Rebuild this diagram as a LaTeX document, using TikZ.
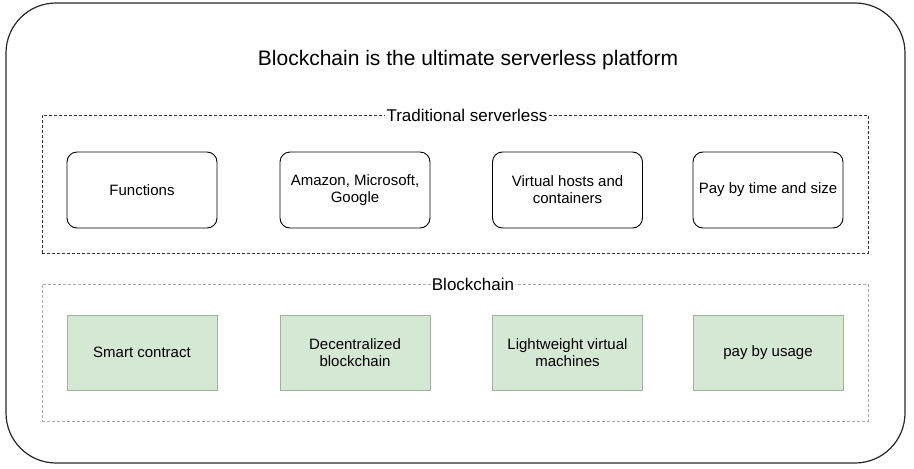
\documentclass[tikz,border=0pt]{standalone}
\usepackage{fontspec}
\setmainfont{Liberation Sans}
\definecolor{leafgreen}{HTML}{D5E8D4}
\definecolor{leafedge}{HTML}{9DB39A}
\definecolor{fogline}{HTML}{AAAAAA}
\begin{document}
\begin{tikzpicture}[x=1pt,y=-1pt,
    ideabox/.style={draw, rounded corners=10pt, line width=0.9pt, minimum width=150pt, minimum height=76pt,
        inner sep=0pt, align=center, font=\fontsize{15}{17}\selectfont},
    chainbox/.style={draw=leafedge, fill=leafgreen, line width=0.9pt, minimum width=150pt, minimum height=75pt,
        inner sep=0pt, align=center, font=\fontsize{15}{17}\selectfont},
    groupbox/.style={dashed, dash pattern=on 3pt off 2pt, line width=0.8pt, minimum width=826pt, minimum height=138pt, inner sep=0pt},
    grouplabel/.style={fill=white, inner sep=2pt, font=\fontsize{17}{20}\selectfont}]
    \useasboundingbox (0,0) rectangle (914,469);

    % draw the outer frame
    \node[draw, line width=1.2pt, draw=black!85, rounded corners=50pt, minimum width=899pt, minimum height=460pt] (frame) at (455.5,233) {};
    \node[font=\fontsize{21}{24}\selectfont] (title) at (468,60) {Blockchain is the ultimate serverless platform};

    % traditional serverless
    \node[groupbox, draw=black!80] (tradition) at (455,184) {};
    \node[grouplabel] (traditionlabel) at (467,115) {Traditional serverless};
    \node[ideabox] (functions) at (142,190) {Functions};
    \node[ideabox] (clouds) at (355,190) {Amazon, Microsoft,\\Google};
    \node[ideabox] (hosts) at (567.5,190) {Virtual hosts and\\containers};
    \node[ideabox] (paytime) at (768,190) {Pay by time and size};

    % blockchain
    \node[groupbox, draw=fogline, minimum height=137pt] (chain) at (455,352.5) {};
    \node[grouplabel, inner sep=1pt] (chainlabel) at (473,284) {Blockchain};
    \node[chainbox] (contract) at (142,352.5) {Smart contract};
    \node[chainbox] (ledger) at (355,352.5) {Decentralized\\blockchain};
    \node[chainbox] (vms) at (567.5,352.5) {Lightweight virtual\\machines};
    \node[chainbox] (payusage) at (768,352.5) {pay by usage};
\end{tikzpicture}
\end{document}
